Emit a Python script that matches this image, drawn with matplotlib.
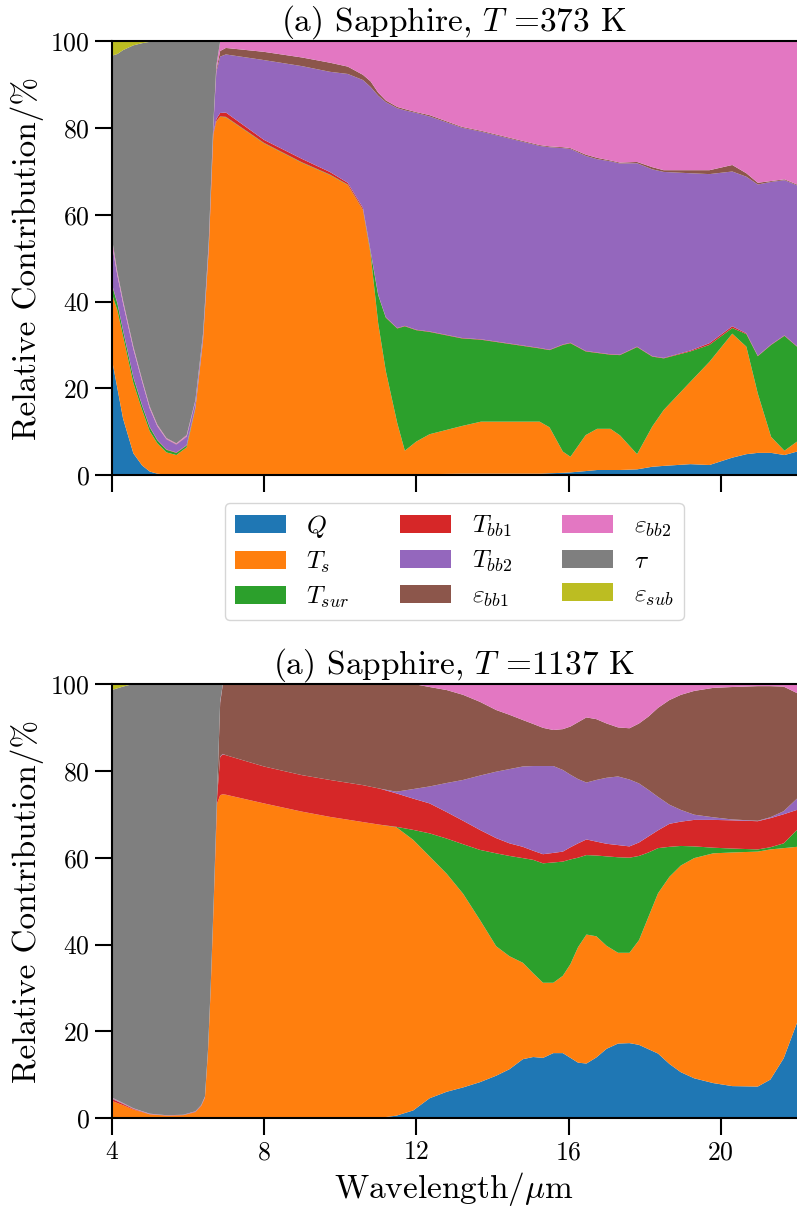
import matplotlib
matplotlib.use("Agg")
import matplotlib.pyplot as plt

# Computer Modern look for all text
plt.rcParams["font.family"] = "serif"
plt.rcParams["font.serif"] = ["cmr10"]
plt.rcParams["mathtext.fontset"] = "cm"
plt.rcParams["axes.formatter.use_mathtext"] = True
plt.rcParams["axes.unicode_minus"] = False

#Contribution of each term (%) for sapphire at 373 K
wl_373 = [4.0, 4.15, 4.3, 4.57, 4.8, 5.0, 5.2, 5.44, 5.7, 5.97,
          6.2, 6.4, 6.55, 6.67, 6.75, 6.85, 7.0, 8.0, 9.0, 9.73,
          10.2, 10.6, 10.8, 11.0, 11.2, 11.5, 11.7, 12.0, 12.35, 13.2,
          13.7, 15.24, 15.5, 15.85, 16.05, 16.45, 16.75, 17.1, 17.35, 17.8,
          18.2, 18.5, 19.2, 19.7, 20.3, 20.67, 20.97, 21.32, 21.67, 22.0]
Q_373 = [27, 20, 13, 5, 2.2, 0.8, 0.3, 0.1, 0, 0,
         0, 0, 0, 0, 0, 0, 0, 0, 0, 0.1,
         0.1, 0.1, 0.1, 0.1, 0.1, 0.1, 0.2, 0.2, 0.2, 0.3,
         0.3, 0.3, 0.4, 0.5, 0.6, 0.9, 1.15, 1.15, 1.15, 1.3,
         1.9, 2.1, 2.5, 2.3, 4.0, 4.8, 5.1, 5.1, 4.6, 5.4]
Ts_373 = [15, 18, 19, 16.2, 12.8, 9.3, 7.0, 5.1, 4.6, 6.4,
          15.3, 31, 52, 78.5, 81.5, 82.6, 82.5, 76.5, 72, 69.1,
          66.8, 61.0, 50.9, 34.9, 23.9, 11.9, 5.4, 7.5, 9.2, 11.0,
          12.0, 12.0, 10.6, 4.9, 3.6, 8.3, 9.5, 9.5, 8.0, 3.5,
          9.3, 12.9, 19.0, 23.8, 28.6, 24.8, 13.7, 3.7, 1.0, 2.3]
Tsur_373 = [2, 1.6, 1.3, 1.3, 1.0, 0.9, 0.7, 0.6, 0.5, 0.4,
            0.2, 0.1, 0.1, 0.1, 0.1, 0.1, 0.1, 0.1, 0.1, 0.1,
            0.1, 0.1, 0.5, 6.5, 12.3, 21.8, 28.7, 25.7, 23.6, 20.2,
            18.9, 16.9, 17.8, 24.6, 26.2, 19.3, 17.5, 17.1, 18.5, 24.7,
            16.1, 11.9, 7.0, 3.9, 1.3, 2.9, 8.6, 21.2, 26.5, 21.9]
Tbb1_373 = [0.2, 0.1, 0.1, 0.1, 0.1, 0.1, 0.1, 0.1, 0.1, 0.1,
            0.1, 0.1, 0.2, 0.3, 0.5, 0.8, 1.0, 0.7, 0.8, 0.6,
            0.4, 0.4, 0.2, 0.1, 0.1, 0.1, 0.1, 0.1, 0.1, 0.1,
            0.1, 0.1, 0.1, 0.1, 0.1, 0.1, 0.1, 0.1, 0.1, 0.1,
            0.1, 0.1, 0.2, 0.4, 0.4, 0.2, 0.1, 0.1, 0.1, 0.1]
Tbb2_373 = [9.3, 6.3, 6.1, 6.4, 5.4, 4.2, 3.1, 2.3, 1.8, 1.9,
            1.4, 1.1, 1.2, 1.6, 10.9, 13.0, 13.4, 18.4, 21.4, 23.1,
            25.1, 29.5, 37.8, 45.9, 49.6, 50.7, 49.7, 50.0, 49.6, 48.5,
            47.9, 46.6, 46.7, 45.3, 44.7, 45.0, 44.6, 44.5, 44.1, 42.3,
            43.1, 42.9, 40.9, 39.0, 35.7, 36.1, 39.5, 37.5, 35.8, 37.1]
ebb1_373 = [0.2, 0.1, 0.1, 0.1, 0.1, 0.1, 0.1, 0.1, 0.1, 0.1,
            0.1, 0.1, 0.1, 0.2, 0.5, 1.3, 1.5, 1.9, 2.0, 2.1,
            1.7, 1.2, 1.3, 0.7, 0.4, 0.3, 0.3, 0.2, 0.3, 0.2,
            0.2, 0.2, 0.2, 0.2, 0.2, 0.3, 0.3, 0.2, 0.2, 0.3,
            0.5, 0.4, 0.7, 0.9, 1.5, 0.8, 0.4, 0.2, 0.2, 0.2]
ebb2_373 = [1.3, 0.7, 0.6, 0.5, 0.4, 0.4, 0.3, 0.2, 0.2, 0.3,
            0.2, 0.2, 0.2, 0.3, 1.0, 2.2, 1.5, 2.4, 3.7, 4.9,
            5.8, 7.7, 9.2, 11.8, 13.6, 15.1, 15.6, 16.3, 17.0, 19.7,
            20.6, 23.9, 24.2, 24.4, 24.6, 26.1, 26.9, 27.5, 27.9, 27.8,
            29.0, 29.7, 29.7, 29.7, 28.5, 30.4, 32.6, 32.2, 31.8, 33.0]
tau_373 = [41.7, 50.3, 57.8, 69.5, 77.6, 84.1, 88.4, 91.5, 92.7, 90.8,
           82.7, 67.4, 46.2, 19.0, 5.5] + [0] * 35
esub_373 = [3.3, 2.9, 2.0, 0.9, 0.4, 0.1] + [0] * 44

#Contribution of each term (%) for sapphire at 1137 K
wl_1137 = [4.0, 4.3, 4.57, 5.0, 5.44, 5.88, 6.2, 6.35, 6.45, 6.53,
           6.6, 6.68, 6.77, 6.85, 6.92, 7.0, 8.0, 9.0, 9.73, 10.6,
           11.04, 11.48, 11.92, 12.35, 12.8, 13.23, 13.67, 14.1, 14.45, 14.8,
           15.07, 15.33, 15.6, 15.85, 16.05, 16.25, 16.47, 16.73, 17.0, 17.3,
           17.6, 17.85, 18.1, 18.35, 18.65, 18.95, 19.3, 19.8, 20.3, 20.97,
           21.3, 21.65, 22.0]
Q_1137 = [0] * 20 + [0.1, 0.6, 1.8, 4.6, 6.1, 7.1, 8.3, 9.8, 11.3, 13.6,
                     14.1, 13.9, 15.0, 15.0, 13.9, 12.8, 12.6, 14.0, 16.0, 17.2,
                     17.3, 16.9, 15.9, 14.9, 12.5, 10.6, 9.2, 8.1, 7.4, 7.3,
                     8.9, 13.8, 22.0]
Ts_1137 = [4.0, 3.0, 2.0, 0.9, 0.6, 0.7, 1.4, 2.8, 4.7, 15.3,
           29.6, 49.5, 72.5, 74.4, 74.6, 74.5, 72.5, 70.6, 69.4, 68.2,
           67.5, 66.4, 62.3, 55.7, 50.2, 44.6, 37.4, 29.8, 26.0, 22.2,
           19.3, 17.3, 16.2, 17.8, 21.6, 26.6, 29.7, 27.9, 23.7, 20.9,
           20.8, 24.1, 30.5, 36.9, 43.1, 47.6, 50.7, 52.9, 53.8, 54.1,
           53.0, 48.4, 40.5]
Tsur_1137 = [0] * 21 + [0.1, 2.3, 5.3, 8.1, 11.4, 16.1, 21.4, 23.1, 24.1,
                        26.1, 27.5, 27.7, 26.3, 24.1, 20.6, 18.3, 18.6, 20.6, 22.0,
                        21.9, 19.4, 14.8, 10.4, 6.9, 4.5, 2.7, 1.3, 0.9, 0.5,
                        0.5, 1.1, 3.9]
Tbb1_1137 = [0.5, 0.3, 0.15, 0.05, 0.05, 0.05, 0.1, 0.1, 0.1, 0.2,
             0.2, 0.3, 1.5, 8.8, 9.2, 9.1, 8.5, 8.4, 8.5, 8.5,
             8.3, 7.7, 7.2, 6.9, 6.1, 5.4, 4.6, 3.5, 2.9, 2.6,
             2.1, 2.1, 2.2, 2.3, 2.8, 3.3, 3.6, 3.2, 2.9, 2.8,
             2.6, 3.1, 3.7, 4.1, 5.3, 5.6, 6.1, 6.4, 6.5, 6.5,
             6.7, 6.7, 4.6]
Tbb2_1137 = [0.1, 0.1, 0.05, 0.05, 0.05, 0.05, 0.1, 0.1, 0.1, 0.1,
             0.1, 0.1, 0, 0.1, 0.1, 0, 0, 0, 0, 0,
             0, 0.4, 2.2, 3.9, 6.7, 9.4, 12.5, 15.3, 17.1, 18.5,
             19.5, 20.3, 20.0, 18.8, 16.7, 14.8, 13.1, 14.2, 15.2, 15.8,
             15.4, 13.6, 10.7, 7.7, 4.4, 2.7, 1.2, 0.6, 0.2, 0.1,
             0.2, 0.7, 2.6]
ebb1_1137 = [0.1, 0.05, 0.05, 0, 0, 0, 0, 0, 0, 0,
             0, 0, 0.8, 12.4, 16.0, 16.4, 19.0, 21.0, 22.1, 23.3,
             24.1, 24.8, 24.2, 22.9, 21.4, 19.6, 17.0, 14.2, 12.5, 10.7,
             9.7, 8.8, 8.3, 9.4, 11.1, 13.1, 15.0, 14.0, 12.5, 11.3,
             11.8, 13.8, 16.9, 20.5, 24.1, 26.5, 28.5, 29.8, 30.5, 31.0,
             30.2, 28.7, 24.3]
ebb2_1137 = [0.1, 0.05, 0.05, 0.05, 0, 0, 0, 0, 0.1, 0.1,
             0.1, 0.1, 0.2, 0.3, 0.1, 0, 0, 0, 0, 0,
             0, 0, 0, 0.7, 1.4, 2.5, 4.1, 6.0, 7.1, 8.3,
             9.2, 10.1, 10.6, 10.4, 9.8, 8.8, 7.7, 8.1, 9.1, 10.0,
             10.2, 9.1, 7.5, 5.5, 3.7, 2.5, 1.6, 0.9, 0.7, 0.5,
             0.5, 0.6, 2.1]
tau_1137 = [93.8, 95.9, 97.7, 98.95, 99.3, 99.2, 98.4, 97.0, 95.0, 84.3,
            70.0, 50.0, 25.0, 4.0] + [0] * 39
esub_1137 = [1.4, 0.6] + [0] * 51

labels = [r"$Q$", r"$T_s$", r"$T_{sur}$", r"$T_{bb1}$", r"$T_{bb2}$",
          r"$\varepsilon_{bb1}$", r"$\varepsilon_{bb2}$", r"$\tau$", r"$\varepsilon_{sub}$"]
colors = ["tab:blue", "tab:orange", "tab:green", "tab:red", "tab:purple",
          "tab:brown", "tab:pink", "tab:gray", "tab:olive"]

fig = plt.figure(figsize=(7.97, 12.08), dpi=100)
ax1 = fig.add_axes([0.1401, 0.6068, 0.8599, 0.3589])
ax2 = fig.add_axes([0.1401, 0.0743, 0.8599, 0.3595])

ax1.stackplot(wl_373, Q_373, Ts_373, Tsur_373, Tbb1_373, Tbb2_373,
              ebb1_373, ebb2_373, tau_373, esub_373, colors=colors, labels=labels)
ax2.stackplot(wl_1137, Q_1137, Ts_1137, Tsur_1137, Tbb1_1137, Tbb2_1137,
              ebb1_1137, ebb2_1137, tau_1137, esub_1137, colors=colors, labels=labels)

for ax in [ax1, ax2]:
    ax.set_xlim(4, 22)
    ax.set_ylim(0, 100)
    ax.set_xticks([4, 8, 12, 16, 20])
    ax.set_yticks([0, 20, 40, 60, 80, 100])
    ax.tick_params(direction="out", length=12, width=1.5, labelsize=18.5, pad=4)
    for side in ["left", "bottom", "top"]:
        ax.spines[side].set_linewidth(1.5)
    ax.spines["right"].set_visible(False)
    ax.set_ylabel("Relative Contribution/%", fontsize=24)

ax1.tick_params(labelbottom=False)
ax1.set_title(r"(a) Sapphire, $T$ =373 K", fontsize=24, pad=2.5)
ax2.set_title(r"(a) Sapphire, $T$ =1137 K", fontsize=24, pad=2.5)
ax2.set_xlabel(r"Wavelength/$\mu$m", fontsize=24)

#Legend sits between the two panels
ax1.legend(loc="upper center", bbox_to_anchor=(0.5, -0.0646), ncol=3,
           fontsize=18.3, labelspacing=0.38, borderaxespad=0)

fig.savefig("out.png", dpi=100)
